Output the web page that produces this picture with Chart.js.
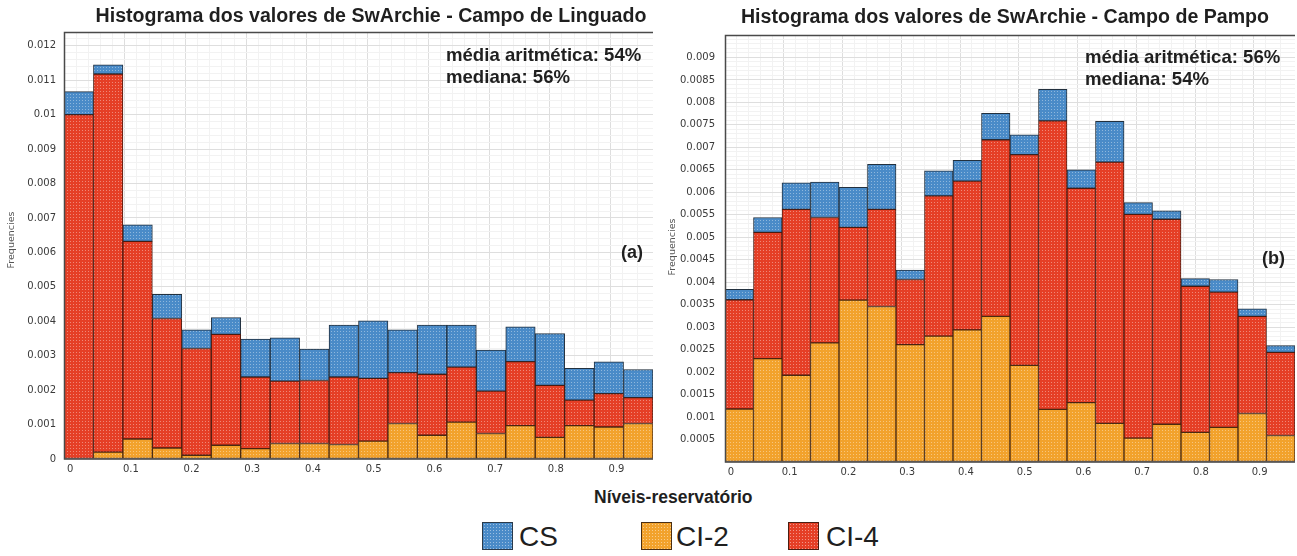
<!DOCTYPE html>
<html>
<head>
<meta charset="utf-8">
<script src="https://cdn.jsdelivr.net/npm/chart.js@4.4.1/dist/chart.umd.min.js"></script>
<style>
  html, body { margin: 0; padding: 0; background: #fff; }
  body { width: 1297px; height: 556px; position: relative; overflow: hidden;
         font-family: "Liberation Sans", Arial, sans-serif; color: #1f1f1f; }
  .wrap { position: absolute; top: 0; height: 480px; }
  #wrapA { left: 0; width: 660px; }
  #wrapB { left: 660px; width: 637px; }
  #legendTitle { position: absolute; left: 594px; top: 486px; font-weight: bold; font-size: 17.5px; line-height: 22px; }
  .sw { position: absolute; top: 522px; width: 31px; height: 28px; box-sizing: border-box;
        border: 1.5px solid #3a3a3a;
        background-image: radial-gradient(rgba(255,255,255,0.45) 0.6px, transparent 0.9px);
        background-size: 3px 3px; }
  .lt { position: absolute; top: 520px; font-size: 28px; line-height: 34px; }
</style>
</head>
<body>
<div class="wrap" id="wrapA"><canvas id="chartA" width="660" height="480"></canvas></div>
<div class="wrap" id="wrapB"><canvas id="chartB" width="637" height="480"></canvas></div>

<div id="legendTitle">Níveis-reservatório</div>
<div class="sw" style="left:482px;background-color:#4a8bc8;border-color:#2a3a4a"></div>
<div class="lt" style="left:519px">CS</div>
<div class="sw" style="left:641px;background-color:#f2a22c;border-color:#4a2e12"></div>
<div class="lt" style="left:676px">CI-2</div>
<div class="sw" style="left:788px;background-color:#e53f26;border-color:#4a1e12"></div>
<div class="lt" style="left:826px">CI-4</div>

<script>
// Histogram bins of SwArchie (20 bins, width 0.0475) — left edge of each bin
const binStart = [0, 0.0475, 0.095, 0.1425, 0.19, 0.2375, 0.285, 0.3325, 0.38, 0.4275,
                  0.475, 0.5225, 0.57, 0.6175, 0.665, 0.7125, 0.76, 0.8075, 0.855, 0.9025];

// Campo de Linguado — frequencies per reservoir level
const linguadoCI2 = [0, 0.0002, 0.00058, 0.00032, 0.00011, 0.0004, 0.0003, 0.00045, 0.00045, 0.00042,
                     0.00052, 0.00103, 0.00069, 0.00107, 0.00074, 0.00097, 0.00063, 0.00097, 0.00093, 0.00103];
const linguadoCI4 = [0.0100, 0.01098, 0.00574, 0.00376, 0.0031, 0.00322, 0.00208, 0.00181, 0.00183, 0.00196,
                     0.00182, 0.00148, 0.00177, 0.0016, 0.00123, 0.00186, 0.00151, 0.00074, 0.00097, 0.00075];
const linguadoCS  = [0.00067, 0.00027, 0.00048, 0.0007, 0.00054, 0.00049, 0.0011, 0.00126, 0.00091, 0.00151,
                     0.00167, 0.00124, 0.00143, 0.00122, 0.00119, 0.00101, 0.0015, 0.00092, 0.00092, 0.00082];

// Campo de Pampo — frequencies per reservoir level
const pampoCI2 = [0.00118, 0.0023, 0.00193, 0.00265, 0.0036, 0.00346, 0.00261, 0.0028, 0.00294, 0.00324,
                  0.00215, 0.00117, 0.00132, 0.00086, 0.00053, 0.00084, 0.00066, 0.00077, 0.00108, 0.00059];
const pampoCI4 = [0.00243, 0.00281, 0.00369, 0.00279, 0.00162, 0.00216, 0.00145, 0.00312, 0.00331, 0.00393,
                  0.00469, 0.00642, 0.00477, 0.00581, 0.00498, 0.00456, 0.00325, 0.00301, 0.00216, 0.00185];
const pampoCS  = [0.00023, 0.00033, 0.00059, 0.00079, 0.00089, 0.001, 0.00021, 0.00056, 0.00046, 0.00059,
                  0.00044, 0.0007, 0.00041, 0.00091, 0.00026, 0.00019, 0.00017, 0.00028, 0.00017, 0.00015];

// Axis ranges
const xRange = [0, 0.95];
const linguadoYMax = 0.0124;
const pampoYMax = 0.0095;

const COLORS = {
  CS:   { fill: '#4a8bc8', edge: '#22303e' },
  CI2:  { fill: '#f2a22c', edge: '#4a2a10' },
  CI4:  { fill: '#e53f26', edge: '#4a1a10' }
};

// fine white dot texture used inside the bars
function dotted(color) {
  const c = document.createElement('canvas');
  c.width = 3; c.height = 3;
  const g = c.getContext('2d');
  g.fillStyle = color; g.fillRect(0, 0, 3, 3);
  g.fillStyle = 'rgba(255,255,255,0.38)'; g.fillRect(1, 1, 1, 1);
  return g.createPattern(c, 'repeat');
}

const isMultiple = (v, step) => Math.abs(v / step - Math.round(v / step)) < 1e-6;
const fmt = v => String(Number(v.toFixed(6)));

// free text (titles, statistics, panel tags)
const overlayText = {
  id: 'overlayText',
  afterDraw(chart, args, opts) {
    const ctx = chart.ctx;
    (opts.items || []).forEach(t => {
      ctx.save();
      ctx.font = t.font;
      ctx.fillStyle = t.color || '#1f1f1f';
      ctx.textAlign = t.align || 'left';
      ctx.textBaseline = 'middle';
      ctx.translate(t.x, t.y);
      if (t.rotate) ctx.rotate(t.rotate);
      ctx.fillText(t.text, 0, 0);
      ctx.restore();
    });
  }
};

// plot frame on left, top and bottom
const plotFrame = {
  id: 'plotFrame',
  afterDatasetsDraw(chart) {
    const { left, top, right, bottom } = chart.chartArea;
    const ctx = chart.ctx;
    ctx.save();
    ctx.strokeStyle = '#4a4a4a';
    ctx.lineWidth = 1.5;
    ctx.beginPath();
    ctx.moveTo(right, top + 0.5); ctx.lineTo(left + 0.5, top + 0.5);
    ctx.lineTo(left + 0.5, bottom); ctx.lineTo(right, bottom);
    ctx.stroke();
    ctx.restore();
  }
};

const gridShade = step => c => (c.tick && isMultiple(c.tick.value, step)) ? '#dedede' : '#f2f2f2';

function histogram(canvasId, cfg) {
  const tickFont = { family: 'DejaVu Sans', size: 10 };
  const ds = (label, values, col) => ({
    label, data: values, xAxisID: 'xc', yAxisID: 'y',
    backgroundColor: dotted(col.fill), borderColor: col.edge, borderWidth: 1,
    borderSkipped: false, barPercentage: 1, categoryPercentage: 1
  });
  return new Chart(document.getElementById(canvasId), {
    type: 'bar',
    data: {
      labels: binStart,
      datasets: [
        ds('CI-2', cfg.ci2, COLORS.CI2),
        ds('CI-4', cfg.ci4, COLORS.CI4),
        ds('CS', cfg.cs, COLORS.CS)
      ]
    },
    options: {
      responsive: false, animation: false, devicePixelRatio: 1,
      layout: { padding: { left: 0, top: cfg.padTop, right: cfg.padRight, bottom: 0 } },
      plugins: {
        legend: { display: false }, tooltip: { enabled: false }, title: { display: false },
        overlayText: { items: cfg.texts }
      },
      scales: {
        xc: { type: 'category', axis: 'x', labels: binStart, stacked: true, display: false, offset: true },
        x: {
          type: 'linear', position: 'bottom', min: xRange[0], max: xRange[1],
          border: { display: false },
          grid: { drawTicks: false, color: gridShade(0.1) },
          ticks: {
            stepSize: 0.02, autoSkip: false, maxRotation: 0, padding: cfg.xPad,
            font: tickFont, color: '#3a3a3a',
            callback: v => isMultiple(v, 0.1) && v < 0.95 ? fmt(v) : ''
          },
          afterFit: s => { s.height = cfg.xAxisH; }
        },
        y: {
          type: 'linear', stacked: true, min: 0, max: cfg.yMax,
          border: { display: false },
          grid: { drawTicks: false, color: gridShade(cfg.yMajor) },
          ticks: {
            stepSize: cfg.yMinor, autoSkip: false, padding: cfg.yPad,
            font: tickFont, color: '#3a3a3a',
            callback: v => (isMultiple(v, cfg.yMajor) && cfg.showTick(v)) ? fmt(v) : ''
          },
          afterFit: s => { s.width = cfg.yAxisW; }
        }
      }
    },
    plugins: [overlayText, plotFrame]
  });
}

const titleFont = 'bold 19.6px "Liberation Sans", Arial, sans-serif';
const statFont = 'bold 18.6px "Liberation Sans", Arial, sans-serif';
const tagFont = 'bold 18px "Liberation Sans", Arial, sans-serif';
const axisTitleFont = '9.5px "DejaVu Sans", sans-serif';

histogram('chartA', {
  ci2: linguadoCI2, ci4: linguadoCI4, cs: linguadoCS,
  yMax: linguadoYMax, yMajor: 0.001, yMinor: 0.0002,
  showTick: v => v <= 0.012 + 1e-9,
  padTop: 32, padRight: 7, xAxisH: 21, yAxisW: 64, xPad: 4, yPad: 8,
  texts: [
    { text: 'Histograma dos valores de SwArchie - Campo de Linguado', x: 371, y: 17, font: titleFont, align: 'center' },
    { text: 'média aritmética: 54%', x: 446, y: 56, font: statFont },
    { text: 'mediana: 56%', x: 446, y: 78, font: statFont },
    { text: '(a)', x: 643, y: 253, font: tagFont, align: 'right' },
    { text: 'Frequencies', x: 12, y: 240, font: axisTitleFont, align: 'center', rotate: -Math.PI / 2, color: '#555' }
  ]
});

histogram('chartB', {
  ci2: pampoCI2, ci4: pampoCI4, cs: pampoCS,
  yMax: pampoYMax, yMajor: 0.0005, yMinor: 0.0001,
  showTick: v => v > 1e-9 && v <= 0.009 + 1e-9,
  padTop: 35, padRight: 2, xAxisH: 18, yAxisW: 65, xPad: 4, yPad: 10,
  texts: [
    { text: 'Histograma dos valores de SwArchie - Campo de Pampo', x: 345, y: 18, font: titleFont, align: 'center' },
    { text: 'média aritmética: 56%', x: 425, y: 58, font: statFont },
    { text: 'mediana: 54%', x: 425, y: 80, font: statFont },
    { text: '(b)', x: 625, y: 259, font: tagFont, align: 'right' },
    { text: 'Frequencies', x: 13, y: 247, font: axisTitleFont, align: 'center', rotate: -Math.PI / 2, color: '#555' }
  ]
});
</script>
</body>
</html>
